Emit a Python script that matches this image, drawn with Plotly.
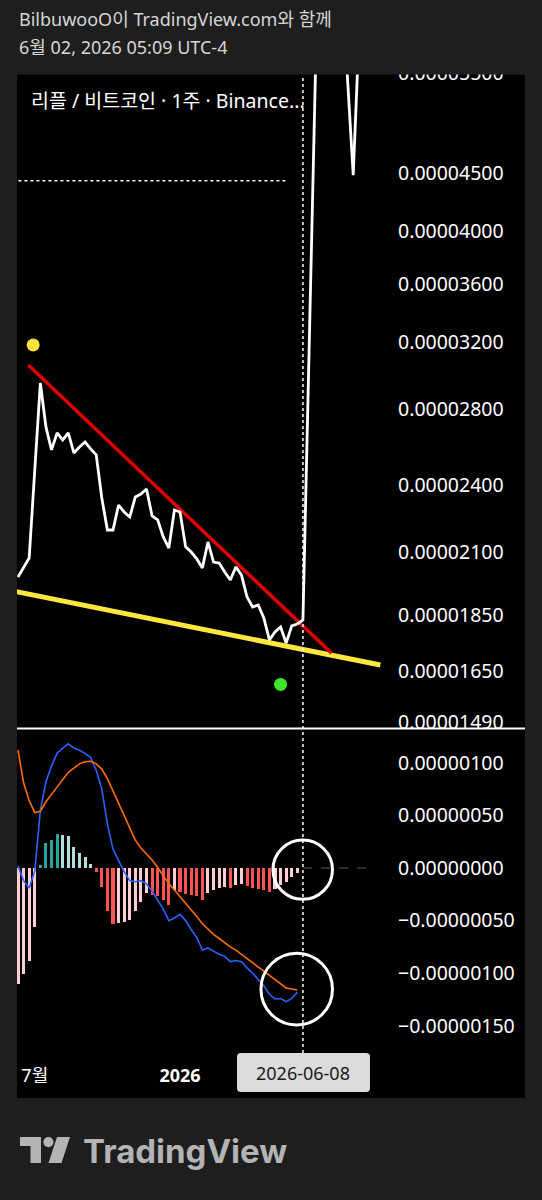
import math
import pandas as pd
import plotly.graph_objects as go

W, H = 542, 1200
E = 1e-6

# ---------------- data ----------------
first_week = "2025-06-16"
weeks = pd.date_range(first_week, periods=51, freq="7D")

# XRP/BTC weekly close (x 1e-6)
close_e6 = [19.96, 20.33, 20.74, 24.75, 29.49, 27.00, 25.78, 26.67, 26.30, 26.67,
            25.62, 25.93, 26.19, 25.83, 25.52, 23.40, 21.94, 21.94, 23.07, 22.75,
            22.52, 23.45, 23.59, 23.83, 22.57, 22.39, 21.64, 21.16, 22.84, 22.75,
            21.21, 20.99, 20.70, 20.33, 21.42, 20.57, 20.53, 20.16, 19.84, 20.37,
            20.04, 19.17, 18.79, 18.87, 18.38, 17.59, 17.87, 18.05, 17.48, 18.09, 18.16]

# MACD (x 1e-6)
macd_e6 = [0.02, -0.12, -0.19, -0.03, 0.55, 0.82, 0.97, 1.09, 1.14, 1.18,
           1.14, 1.12, 1.09, 1.05, 0.93, 0.75, 0.42, 0.18, 0.07, -0.035,
           -0.12, -0.13, -0.12, -0.15, -0.22, -0.30, -0.39, -0.50, -0.475, -0.44,
           -0.50, -0.585, -0.66, -0.78, -0.76, -0.79, -0.82, -0.84, -0.89, -0.88,
           -0.89, -0.95, -1.00, -1.06, -1.12, -1.20, -1.245, -1.24, -1.27, -1.24, -1.18]
signal_e6 = [1.12, 0.81, 0.64, 0.526, 0.54, 0.63, 0.70, 0.77, 0.84, 0.91,
             0.95, 0.99, 1.01, 1.015, 0.99, 0.94, 0.85, 0.73, 0.61, 0.50,
             0.38, 0.265, 0.19, 0.13, 0.076, 0.005, -0.07, -0.15, -0.21, -0.27,
             -0.33, -0.39, -0.46, -0.53, -0.58, -0.63, -0.67, -0.71, -0.75, -0.78,
             -0.82, -0.855, -0.90, -0.94, -0.98, -1.02, -1.06, -1.10, -1.14, -1.15, -1.16]
hist_e6 = [-1.10, -1.01, -0.88, -0.56, 0.03, 0.24, 0.27, 0.32, 0.31, 0.30,
           0.20, 0.14, 0.10, 0.04, -0.035, -0.18, -0.41, -0.53, -0.52, -0.51,
           -0.49, -0.41, -0.32, -0.24, -0.26, -0.27, -0.30, -0.35, -0.21, -0.23,
           -0.25, -0.26, -0.27, -0.30, -0.24, -0.21, -0.19, -0.18, -0.19, -0.16,
           -0.15, -0.17, -0.19, -0.20, -0.21, -0.23, -0.20, -0.16, -0.13, -0.09, -0.05]

# drawn projection path (x 1e-6)
proj_dates = ["2026-06-01", "2026-06-08", "2026-06-29", "2026-07-27", "2026-08-10", "2026-08-17"]
proj_e6 = [18.16, 18.31, 80.0, 65.6, 44.8, 58.9]

# drawn horizontal level
level_dates = ["2025-06-09", "2026-05-18"]
level_e6 = [44.3, 44.3]

# trend lines
red_dates = ["2025-06-28 21:00", "2026-07-14"]
red_e6 = [30.58, 17.12]
yellow_dates = ["2025-06-14", "2026-09-13"]
yellow_e6 = [19.38, 16.72]

# marker dots
yellow_dot_dates = ["2025-07-05"]
yellow_dot_e6 = [31.84]
green_dot_dates = ["2026-05-11"]
green_dot_e6 = [16.08]

# circles drawn on MACD pane: (start week offset, end week offset), (low, high) x 1e-6
circle_weeks = [(45.64, 56.29), (43.49, 56.29)]
circle_e6 = [(-0.2975, 0.266), (-1.492, -0.811)]

price_ticks_e6 = [14.9, 16.5, 18.5, 21, 24, 28, 32, 36, 40, 45, 55]
macd_ticks_e6 = [-1.5, -1.0, -0.5, 0.0, 0.5, 1.0]
time_tick_dates = ["2025-07-07", "2026-01-05"]
time_tick_text = ["7월", "<b>2026</b>"]
cursor_date = "2026-06-08"
cursor_label = "2026-06-08"

header1 = "BilbuwooO이 TradingView.com와 함께"
header2 = "6월 02, 2026 05:09 UTC-4"
chart_title = "리플 / 비트코인 · 1주 · Binance..."

# ---------------- helpers ----------------
def px(x):
    return x / W


def py(y):
    return 1 - y / H


base = pd.Timestamp(first_week)


def wk(off):
    return (base + pd.Timedelta(weeks=off)).strftime("%Y-%m-%d %H:%M:%S")


def scale(lst):
    return [v * E for v in lst]


# ---------------- figure ----------------
fig = go.Figure()

FAM = "Noto Sans, Noto Sans CJK KR, sans-serif"
LBL_FONT = dict(family=FAM, size=19.5, color="#ffffff")
BG = "#1e1e1e"

# histogram colours (TradingView MACD scheme)
hist_colors = []
prev = None
for v in hist_e6:
    rising = prev is None or v > prev
    if v >= 0:
        hist_colors.append("#26a69a" if rising else "#b2dfdb")
    else:
        hist_colors.append("#ffcdd2" if rising else "#ff5252")
    prev = v

bar_w = 0.55 * 7 * 24 * 3600 * 1000

fig.add_trace(go.Bar(x=weeks, y=scale(hist_e6), marker=dict(color=hist_colors, line_width=0),
                     width=bar_w, xaxis="x2", yaxis="y2"))
fig.add_trace(go.Scatter(x=weeks, y=scale(macd_e6), mode="lines",
                         line=dict(color="#2962ff", width=1.6), xaxis="x2", yaxis="y2"))
fig.add_trace(go.Scatter(x=weeks, y=scale(signal_e6), mode="lines",
                         line=dict(color="#ff6d00", width=1.6), xaxis="x2", yaxis="y2"))

# main pane
fig.add_trace(go.Scatter(x=yellow_dates, y=scale(yellow_e6), mode="lines",
                         line=dict(color="#ffe83a", width=5)))
fig.add_trace(go.Scatter(x=red_dates, y=scale(red_e6), mode="lines",
                         line=dict(color="#e00000", width=3.5)))
fig.add_trace(go.Scatter(x=level_dates, y=scale(level_e6), mode="lines",
                         line=dict(color="#ffffff", width=1.5, dash="dot")))
fig.add_trace(go.Scatter(x=weeks, y=scale(close_e6), mode="lines",
                         line=dict(color="#ffffff", width=2.8)))
fig.add_trace(go.Scatter(x=proj_dates, y=scale(proj_e6), mode="lines",
                         line=dict(color="#ffffff", width=2.8)))
fig.add_trace(go.Scatter(x=yellow_dot_dates, y=scale(yellow_dot_e6), mode="markers",
                         marker=dict(color="#fde23c", size=13, line_width=0)))
fig.add_trace(go.Scatter(x=green_dot_dates, y=scale(green_dot_e6), mode="markers",
                         marker=dict(color="#3ee62a", size=13, line_width=0)))

x_range = [wk(-0.179), wk(65.69)]
# pane geometry (pixels) and log calibration: 0.000045 at y=173, 497 px per ln-unit
main_top = 68
main_bot = 728
macd_top = 730
macd_bot = 1050
log_top = math.log10(45e-6 * math.exp((173 - main_top) / 497))
log_bot = math.log10(45e-6 * math.exp((173 - main_bot) / 497))

fig.update_layout(
    width=W, height=H,
    margin=dict(l=0, r=0, t=0, b=0, pad=0, autoexpand=False),
    paper_bgcolor=BG,
    plot_bgcolor="#000000",
    showlegend=False,
    hovermode=False,
    bargap=0,
    xaxis=dict(domain=[px(17), px(385)], range=x_range, type="date", anchor="y",
               showticklabels=False, showgrid=False, zeroline=False, showline=False, ticks="",
               automargin=False),
    yaxis=dict(domain=[py(main_bot), py(main_top)], type="log",
               range=[log_bot, log_top],
               side="right", anchor="x", showgrid=False, zeroline=False, showline=False,
               tickvals=scale(price_ticks_e6), tickformat=".8f", ticks="",
               ticklabelstandoff=12, tickfont=LBL_FONT, automargin=False),
    xaxis2=dict(domain=[px(17), px(385)], range=x_range, type="date", anchor="y2", matches="x",
                showgrid=False, zeroline=False, showline=False, ticks="",
                tickvals=time_tick_dates, ticktext=time_tick_text, ticklabelstandoff=13,
                tickfont=dict(family=FAM, size=18, color="#ffffff"), automargin=False),
    yaxis2=dict(domain=[py(macd_bot), py(macd_top)], range=[-1.730e-6, 1.3118e-6],
                side="right", anchor="x2", showgrid=False, zeroline=False, showline=False,
                tickvals=scale(macd_ticks_e6), tickformat=".8f", ticks="",
                ticklabelstandoff=12, tickfont=LBL_FONT, automargin=False),
)

shapes = []
# black chart frame
shapes.append(dict(type="rect", xref="paper", yref="paper", x0=px(17), x1=px(525),
                   y0=py(1098), y1=py(73), fillcolor="#000000", line_width=0, layer="below"))
# top edge of the frame (clips the top price label and the projection line)
shapes.append(dict(type="rect", xref="paper", yref="paper", x0=px(0), x1=px(542),
                   y0=py(74.5), y1=py(55), fillcolor=BG, line_width=0, layer="above"))
# pane separator
shapes.append(dict(type="line", xref="paper", yref="paper", x0=px(17), x1=px(525),
                   y0=py(728.5), y1=py(728.5), line=dict(color="#ffffff", width=2)))
# crosshair vertical
shapes.append(dict(type="line", xref="x", yref="paper", x0=cursor_date, x1=cursor_date,
                   y0=py(1053), y1=py(75), line=dict(color="#ffffff", width=1.5, dash="dot")))
# MACD zero dashed line (right of histogram)
shapes.append(dict(type="line", xref="x2", yref="y2", x0=cursor_date, x1=wk(63.9),
                   y0=0, y1=0, line=dict(color="#5d5d5d", width=1.2, dash="dash")))
# drawn circles
for (w0, w1), (lo, hi) in zip(circle_weeks, circle_e6):
    shapes.append(dict(type="circle", xref="x2", yref="y2", x0=wk(w0), x1=wk(w1),
                       y0=lo * E, y1=hi * E, line=dict(color="#ffffff", width=3)))

# date box on time axis (rounded)
bx0, bx1, by0, by1, r = 237, 370, 1053, 1092, 4
path = (f"M {px(bx0 + r)},{py(by0)} L {px(bx1 - r)},{py(by0)} "
        f"Q {px(bx1)},{py(by0)} {px(bx1)},{py(by0 + r)} L {px(bx1)},{py(by1 - r)} "
        f"Q {px(bx1)},{py(by1)} {px(bx1 - r)},{py(by1)} L {px(bx0 + r)},{py(by1)} "
        f"Q {px(bx0)},{py(by1)} {px(bx0)},{py(by1 - r)} L {px(bx0)},{py(by0 + r)} "
        f"Q {px(bx0)},{py(by0)} {px(bx0 + r)},{py(by0)} Z")
shapes.append(dict(type="path", xref="paper", yref="paper", path=path,
                   fillcolor="#dcdcdc", line_width=0))

# TradingView logo icon
logo_c = "#b4b4b4"
shapes.append(dict(type="rect", xref="paper", yref="paper", x0=px(20), x1=px(41),
                   y0=py(1146), y1=py(1137), fillcolor=logo_c, line_width=0))
shapes.append(dict(type="rect", xref="paper", yref="paper", x0=px(30.5), x1=px(41),
                   y0=py(1163), y1=py(1137), fillcolor=logo_c, line_width=0))
shapes.append(dict(type="circle", xref="paper", yref="paper", x0=px(43.3), x1=px(53.5),
                   y0=py(1147.2), y1=py(1137), fillcolor=logo_c, line_width=0))
ppath = (f"M {px(57)},{py(1137)} L {px(70)},{py(1137)} L {px(61.5)},{py(1163)} "
         f"L {px(48.5)},{py(1163)} Z")
shapes.append(dict(type="path", xref="paper", yref="paper", path=ppath,
                   fillcolor=logo_c, line_width=0))

fig.update_layout(shapes=shapes)

HDR_FONT = dict(family=FAM, size=18, color="#d6d6d6")
annotations = [
    dict(text=header1, x=px(17), y=py(19), xref="paper", yref="paper",
         xanchor="left", yanchor="middle", showarrow=False, font=HDR_FONT),
    dict(text=header2, x=px(17), y=py(47), xref="paper", yref="paper",
         xanchor="left", yanchor="middle", showarrow=False, font=HDR_FONT),
    dict(text=chart_title, x=px(29), y=py(100), xref="paper", yref="paper",
         xanchor="left", yanchor="middle", showarrow=False,
         font=dict(family=FAM, size=19.5, color="#ffffff")),
    dict(text=cursor_label, x=cursor_date, xref="x2", y=py(1072.5), yref="paper",
         xanchor="center", yanchor="middle", showarrow=False,
         font=dict(family=FAM, size=18, color="#1a1a1a")),
    dict(text="TradingView", x=px(81), y=py(1151), xref="paper", yref="paper",
         xanchor="left", yanchor="middle", showarrow=False,
         font=dict(family="Inter, sans-serif", size=33, color=logo_c, weight=700)),
]
fig.update_layout(annotations=annotations)

page_fix = ("var s=document.createElement('style');"
            "s.textContent='html,body{margin:0;padding:0;height:1200px;overflow:hidden;background:#1e1e1e}';"
            "document.head.appendChild(s);")
fig.write_html("out.html", config={"displayModeBar": False}, post_script=page_fix)
